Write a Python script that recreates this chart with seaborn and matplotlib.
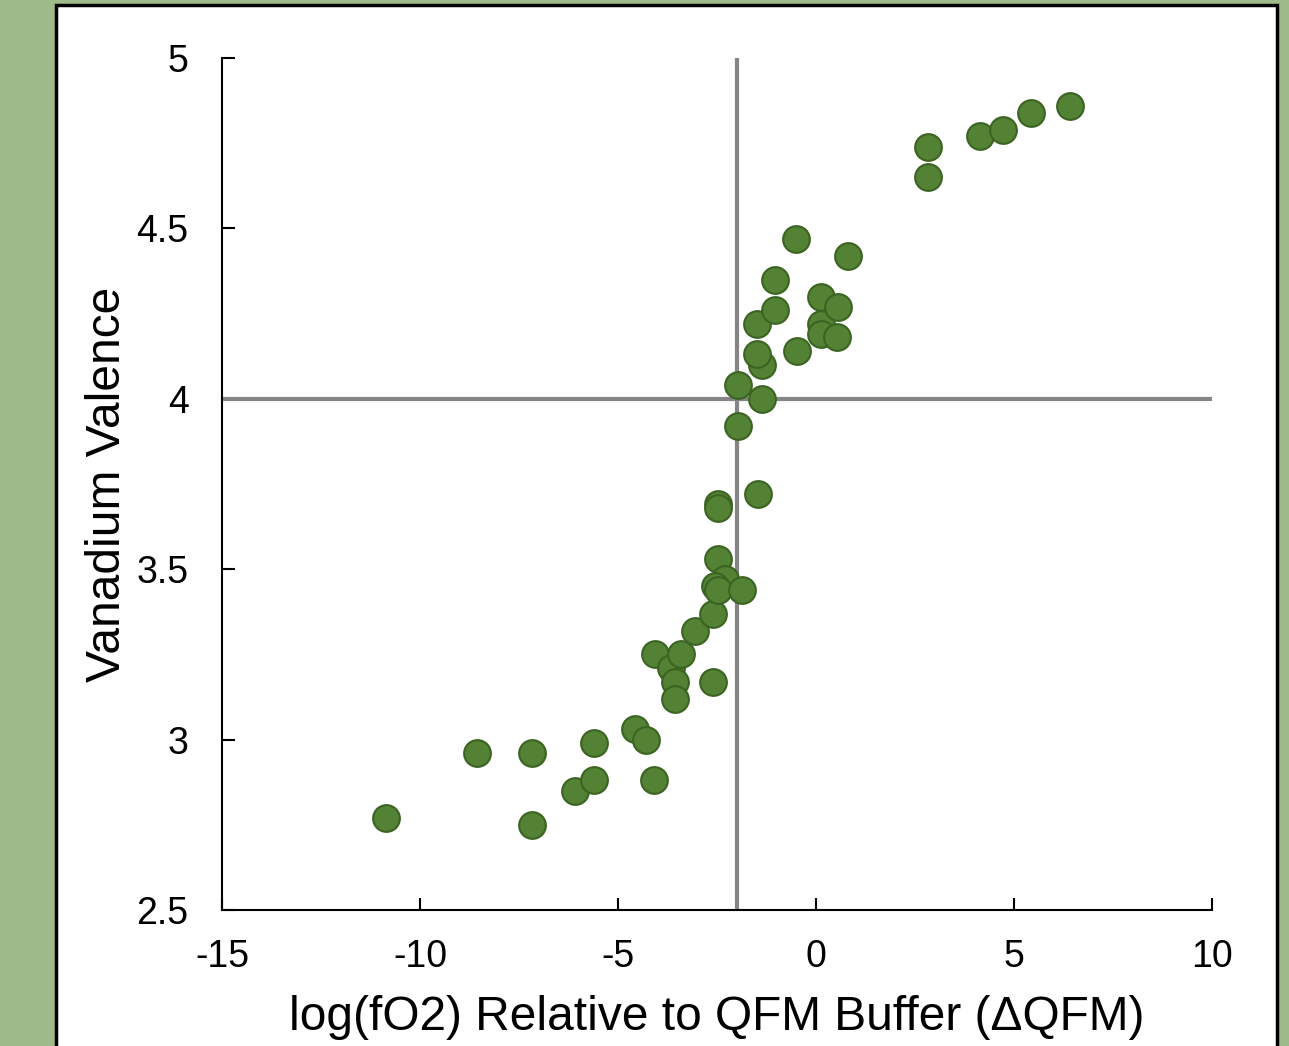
import seaborn as sns
import pandas as pd
import matplotlib.pyplot as plt
from matplotlib.patches import Rectangle

# delta QFM vs vanadium valence
dqfm = [-10.86, -8.56, -7.17, -7.17, -6.09, -5.61, -5.61, -4.57, -4.29, -4.09,
        -4.07, -3.66, -3.56, -3.56, -3.41, -3.06, -2.60, -2.60, -2.47, -2.30,
        -2.55, -2.47, -1.87, -2.47, -2.47, -1.46, -1.97, -1.97, -1.36, -1.36,
        -1.49, -1.49, -1.04, -1.04, -0.51, -0.48, 0.13, 0.13, 0.13, 0.56,
        0.53, 0.81, 2.83, 2.83, 4.14, 4.72, 5.43, 6.41]
valence = [2.77, 2.96, 2.96, 2.75, 2.85, 2.88, 2.99, 3.03, 3.00, 2.88,
           3.25, 3.21, 3.17, 3.12, 3.25, 3.32, 3.37, 3.17, 3.53, 3.47,
           3.45, 3.44, 3.44, 3.69, 3.68, 3.72, 3.92, 4.04, 4.00, 4.10,
           4.13, 4.22, 4.26, 4.35, 4.47, 4.14, 4.30, 4.22, 4.19, 4.27,
           4.18, 4.42, 4.74, 4.65, 4.77, 4.79, 4.84, 4.86]
x_ref = -2.0
y_ref = 4.0
x_ticks = [-15, -10, -5, 0, 5, 10]
y_ticks = [2.5, 3, 3.5, 4, 4.5, 5]
y_tick_labels = ['2.5', '3', '3.5', '4', '4.5', '5']

df = pd.DataFrame({'dqfm': dqfm, 'valence': valence})

sns.set_style('ticks')
plt.rcParams['font.family'] = ['Liberation Sans', 'DejaVu Sans']
plt.rcParams['axes.unicode_minus'] = False

fig = plt.figure(figsize=(12.89, 10.46), dpi=100)
fig.patch.set_facecolor('#9dbb88')
# white panel with black frame, kept behind the axes
fig.patches.append(Rectangle((56 / 1289, -0.05), (1277 - 56) / 1289, 1.05 - 5 / 1046,
                             transform=fig.transFigure, facecolor='white',
                             edgecolor='black', linewidth=2.5, zorder=-10))

ax = fig.add_axes([222 / 1289, 136 / 1046, 990 / 1289, 852 / 1046])
ax.set_facecolor('none')
ax.set_zorder(1)

ax.axvline(x_ref, color='#858585', linewidth=3, zorder=1)
ax.axhline(y_ref, color='#858585', linewidth=3, zorder=1)

sns.scatterplot(data=df, x='dqfm', y='valence', ax=ax, s=370,
                color='#548235', edgecolor='#3b6321', linewidth=1.5, zorder=3)

ax.set_xlim(-15, 10)
ax.set_ylim(2.5, 5)
ax.set_xticks(x_ticks)
ax.set_yticks(y_ticks)
ax.set_yticklabels(y_tick_labels)
ax.tick_params(direction='in', length=9, width=1.5, labelsize=27, pad=24,
               colors='black', labelcolor='black')
ax.tick_params(axis='x', pad=21)

for side in ['top', 'right']:
    ax.spines[side].set_visible(False)
for side in ['left', 'bottom']:
    ax.spines[side].set_linewidth(1.5)
    ax.spines[side].set_color('black')

ax.set_xlabel('log(fO2) Relative to QFM Buffer (ΔQFM)', fontsize=34.5,
              labelpad=14, color='black')
ax.set_ylabel('Vanadium Valence', fontsize=34.5, labelpad=5, color='black')

plt.savefig('out.png', dpi=100, facecolor=fig.get_facecolor())
